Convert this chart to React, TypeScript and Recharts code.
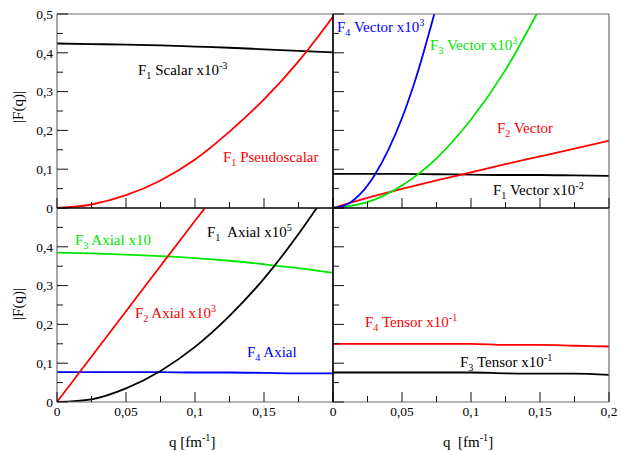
import React from 'react';
import { LineChart, Line, XAxis, YAxis } from 'recharts';

const W = 621;
const H = 451;
const SERIF = '"Liberation Serif", "DejaVu Serif", "Times New Roman", serif';

// common q sampling [fm^-1]
const qGrid = [0, 0.025, 0.05, 0.075, 0.1, 0.125, 0.15, 0.175, 0.2];

// top-left panel: scalar / pseudoscalar
const scalarF1 = [0.424, 0.4225, 0.421, 0.419, 0.416, 0.413, 0.409, 0.405, 0.401];
const pseudoscalarF1 = [0, 0.009, 0.033, 0.071, 0.125, 0.197, 0.28, 0.378, 0.493];

// top-right panel: vector
const vectorF1 = [0.088, 0.088, 0.088, 0.087, 0.086, 0.085, 0.085, 0.084, 0.083];
const vectorF2 = [0, 0.026, 0.049, 0.071, 0.092, 0.113, 0.133, 0.153, 0.1735];
const vectorF3Q = [0, 0.025, 0.05, 0.075, 0.1, 0.125, 0.1476];
const vectorF3 = [0, 0.015, 0.058, 0.128, 0.228, 0.356, 0.5];
const vectorF4Q = [0, 0.01, 0.02, 0.03, 0.04, 0.05, 0.06, 0.0734];
const vectorF4 = [0, 0.009, 0.037, 0.084, 0.149, 0.232, 0.334, 0.5];

// bottom-left panel: axial
const axialF3 = [0.385, 0.383, 0.38, 0.376, 0.371, 0.364, 0.355, 0.345, 0.333];
const axialF2Q = [0, 0.05, 0.1, 0.1072];
const axialF2 = [0, 0.234, 0.467, 0.5];
const axialF1Q = [0, 0.025, 0.05, 0.075, 0.1, 0.125, 0.15, 0.175, 0.1882];
const axialF1 = [0, 0.007, 0.035, 0.08, 0.142, 0.222, 0.318, 0.433, 0.5];
const axialF4 = [0.077, 0.077, 0.077, 0.077, 0.076, 0.076, 0.075, 0.074, 0.074];

// bottom-right panel: tensor
const tensorF4 = [0.15, 0.15, 0.15, 0.15, 0.15, 0.147, 0.147, 0.145, 0.143];
const tensorF3 = [0.076, 0.076, 0.076, 0.076, 0.076, 0.074, 0.073, 0.073, 0.07];

// ticks
const xTicks = [0, 0.025, 0.05, 0.075, 0.1, 0.125, 0.15, 0.175, 0.2];
const yTicks = [0, 0.05, 0.1, 0.15, 0.2, 0.25, 0.3, 0.35, 0.4, 0.45, 0.5];

const RED = '#ff0000';
const GREEN = '#00e600';
const BLUE = '#0000ff';
const BLACK = '#000000';
const OUTER = '#6a6a6a';

const toData = (qs: number[], vs: number[]) => qs.map((q, i) => ({ q, v: vs[i] }));

const isMult = (v: number, step: number) => Math.abs(v / step - Math.round(v / step)) < 1e-6;
const fmt = (v: number) => String(v).replace('.', ',');
const TM = 4;
const TICK_FS = 13.5;

const makeXTick = (labelMax: number | null) => (p: any) => {
  const { x, y, payload } = p;
  const v = payload.value as number;
  const major = isMult(v, 0.05);
  const ay = y - TM;
  return (
    <g>
      <line x1={x} x2={x} y1={ay} y2={ay - (major ? 10 : 6)} stroke="#111" strokeWidth={1} />
      {labelMax !== null && major && v <= labelMax + 1e-9 ? (
        <text x={x} y={y} dy="0.71em" textAnchor="middle" fontFamily={SERIF} fontSize={TICK_FS} fill="#000">
          {fmt(v)}
        </text>
      ) : null}
    </g>
  );
};

const makeLeftTick = (labelMax: number | null) => (p: any) => {
  const { x, y, payload } = p;
  const v = payload.value as number;
  const major = isMult(v, 0.1);
  const ax = x + TM;
  return (
    <g>
      <line x1={ax} x2={ax + (major ? 11 : 6)} y1={y} y2={y} stroke="#111" strokeWidth={1} />
      {labelMax !== null && major && v <= labelMax + 1e-9 ? (
        <text x={x} y={y} dy="0.355em" textAnchor="end" fontFamily={SERIF} fontSize={TICK_FS} fill="#000">
          {fmt(v)}
        </text>
      ) : null}
    </g>
  );
};

const rightTick = (p: any) => {
  const { x, y, payload } = p;
  const v = payload.value as number;
  const major = isMult(v, 0.1);
  return <line x1={x} x2={x - (major ? 11 : 6)} y1={y} y2={y} stroke="#111" strokeWidth={1} />;
};

type Series = { key: string; data: { q: number; v: number }[]; color: string };

type Box = { x0: number; x1: number; y0: number; y1: number };

type PanelProps = {
  box: Box;
  series: Series[];
  xLabelMax: number | null;
  yLabelMax: number | null;
  rightTicks: boolean;
  edges: { top: string; bottom: string; left: string; right: string };
};

function Panel({ box, series, xLabelMax, yLabelMax, rightTicks, edges }: PanelProps) {
  // axes are 1px thick, so the margins leave that pixel for them
  const margin = { top: box.y0 - 1, left: box.x0 - 1, right: W - box.x1 - 1, bottom: H - box.y1 - 1 };
  return (
    <div style={{ position: 'absolute', left: 0, top: 0 }}>
      <LineChart width={W} height={H} margin={margin}>
        <XAxis
          xAxisId="b"
          dataKey="q"
          type="number"
          domain={[0, 0.2]}
          allowDataOverflow
          ticks={xTicks}
          interval={0}
          height={1}
          tickSize={0}
          tickMargin={TM}
          tickLine={false}
          axisLine={{ stroke: edges.bottom, strokeWidth: 1.2 }}
          tick={makeXTick(xLabelMax)}
        />
        <XAxis
          xAxisId="t"
          orientation="top"
          dataKey="q"
          type="number"
          domain={[0, 0.2]}
          height={1}
          tick={false}
          tickLine={false}
          axisLine={{ stroke: edges.top, strokeWidth: 1.2 }}
        />
        <YAxis
          yAxisId="l"
          type="number"
          domain={[0, 0.5]}
          allowDataOverflow
          ticks={yTicks}
          interval={0}
          width={1}
          tickSize={0}
          tickMargin={TM}
          tickLine={false}
          axisLine={{ stroke: edges.left, strokeWidth: 1.2 }}
          tick={makeLeftTick(yLabelMax)}
        />
        <YAxis
          yAxisId="r"
          orientation="right"
          type="number"
          domain={[0, 0.5]}
          ticks={yTicks}
          interval={0}
          width={1}
          tickSize={0}
          tickMargin={0}
          tickLine={false}
          axisLine={{ stroke: edges.right, strokeWidth: 1.2 }}
          tick={rightTicks ? rightTick : false}
        />
        {series.map((s) => (
          <Line
            key={s.key}
            xAxisId="b"
            yAxisId="l"
            data={s.data}
            dataKey="v"
            type="monotone"
            stroke={s.color}
            strokeWidth={1.8}
            dot={false}
            activeDot={false}
            isAnimationActive={false}
          />
        ))}
      </LineChart>
    </div>
  );
}

type Part = [string, 'n' | 'sub' | 'sup'];

function Ann({ x, y, color, parts, size = 15 }: { x: number; y: number; color: string; parts: Part[]; size?: number }) {
  let cur = 0;
  return (
    <text x={x} y={y} fill={color} fontFamily={SERIF} fontSize={size} style={{ whiteSpace: 'pre' }}>
      {parts.map(([t, kind], i) => {
        const target = kind === 'sub' ? 4 : kind === 'sup' ? -6 : 0;
        const dy = target - cur;
        cur = target;
        return (
          <tspan key={i} dy={dy} fontSize={kind === 'n' ? size : size * 0.68}>
            {t}
          </tspan>
        );
      })}
    </text>
  );
}

export default function App() {
  const tl: Series[] = [
    { key: 's1', data: toData(qGrid, scalarF1), color: BLACK },
    { key: 'p1', data: toData(qGrid, pseudoscalarF1), color: RED },
  ];
  const tr: Series[] = [
    { key: 'v1', data: toData(qGrid, vectorF1), color: BLACK },
    { key: 'v2', data: toData(qGrid, vectorF2), color: RED },
    { key: 'v3', data: toData(vectorF3Q, vectorF3), color: GREEN },
    { key: 'v4', data: toData(vectorF4Q, vectorF4), color: BLUE },
  ];
  const bl: Series[] = [
    { key: 'a3', data: toData(qGrid, axialF3), color: GREEN },
    { key: 'a4', data: toData(qGrid, axialF4), color: BLUE },
    { key: 'a2', data: toData(axialF2Q, axialF2), color: RED },
    { key: 'a1', data: toData(axialF1Q, axialF1), color: BLACK },
  ];
  const br: Series[] = [
    { key: 't4', data: toData(qGrid, tensorF4), color: RED },
    { key: 't3', data: toData(qGrid, tensorF3), color: BLACK },
  ];

  return (
    <div style={{ position: 'absolute', left: 0, top: 0, width: W, height: H, background: '#fff' }}>
      <Panel
        box={{ x0: 57, x1: 333, y0: 14, y1: 208 }}
        series={tl}
        xLabelMax={null}
        yLabelMax={0.5}
        rightTicks={false}
        edges={{ top: OUTER, bottom: BLACK, left: OUTER, right: BLACK }}
      />
      <Panel
        box={{ x0: 333, x1: 609, y0: 14, y1: 208 }}
        series={tr}
        xLabelMax={null}
        yLabelMax={null}
        rightTicks
        edges={{ top: OUTER, bottom: BLACK, left: BLACK, right: OUTER }}
      />
      <Panel
        box={{ x0: 57, x1: 333, y0: 208, y1: 402 }}
        series={bl}
        xLabelMax={0.15}
        yLabelMax={0.4}
        rightTicks={false}
        edges={{ top: BLACK, bottom: OUTER, left: OUTER, right: BLACK }}
      />
      <Panel
        box={{ x0: 333, x1: 609, y0: 208, y1: 402 }}
        series={br}
        xLabelMax={0.2}
        yLabelMax={null}
        rightTicks
        edges={{ top: BLACK, bottom: OUTER, left: BLACK, right: OUTER }}
      />
      <svg width={W} height={H} style={{ position: 'absolute', left: 0, top: 0, pointerEvents: 'none' }}>
        {/* axis titles */}
        <text transform="translate(18,107) rotate(-90)" textAnchor="middle" dy="0.35em" fontFamily={SERIF} fontSize={15} fill="#000">
          |F(q)|
        </text>
        <text transform="translate(18,304) rotate(-90)" textAnchor="middle" dy="0.35em" fontFamily={SERIF} fontSize={15} fill="#000">
          |F(q)|
        </text>
        <Ann x={169} y={447} color="#000" parts={[['q [fm', 'n'], ['-1', 'sup'], [']', 'n']]} />
        <Ann x={443} y={447} color="#000" parts={[['q  [fm', 'n'], ['-1', 'sup'], [']', 'n']]} />

        {/* top-left */}
        <Ann x={138} y={75} color={BLACK} parts={[['F', 'n'], ['1', 'sub'], [' Scalar x10', 'n'], ['-3', 'sup']]} />
        <Ann x={223} y={162} color={RED} parts={[['F', 'n'], ['1', 'sub'], [' Pseudoscalar', 'n']]} />

        {/* top-right */}
        <Ann x={337} y={32} color={BLUE} parts={[['F', 'n'], ['4', 'sub'], [' Vector x10', 'n'], ['3', 'sup']]} />
        <Ann x={430} y={50} color={GREEN} parts={[['F', 'n'], ['3', 'sub'], [' Vector x10', 'n'], ['3', 'sup']]} />
        <Ann x={497} y={133} color={RED} parts={[['F', 'n'], ['2', 'sub'], [' Vector', 'n']]} />
        <Ann x={493} y={195} color={BLACK} parts={[['F', 'n'], ['1', 'sub'], [' Vector x10', 'n'], ['-2', 'sup']]} />

        {/* bottom-left */}
        <Ann x={75} y={245} color={GREEN} parts={[['F', 'n'], ['3', 'sub'], [' Axial x10', 'n']]} />
        <Ann x={207} y={237} color={BLACK} parts={[['F', 'n'], ['1', 'sub'], ['  Axial x10', 'n'], ['5', 'sup']]} />
        <Ann x={135} y={318} color={RED} parts={[['F', 'n'], ['2', 'sub'], [' Axial x10', 'n'], ['3', 'sup']]} />
        <Ann x={247} y={357} color={BLUE} parts={[['F', 'n'], ['4', 'sub'], [' Axial', 'n']]} />

        {/* bottom-right */}
        <Ann x={365} y={327} color={RED} parts={[['F', 'n'], ['4', 'sub'], [' Tensor x10', 'n'], ['-1', 'sup']]} />
        <Ann x={460} y={367} color={BLACK} parts={[['F', 'n'], ['3', 'sub'], [' Tensor x10', 'n'], ['-1', 'sup']]} />
      </svg>
    </div>
  );
}
